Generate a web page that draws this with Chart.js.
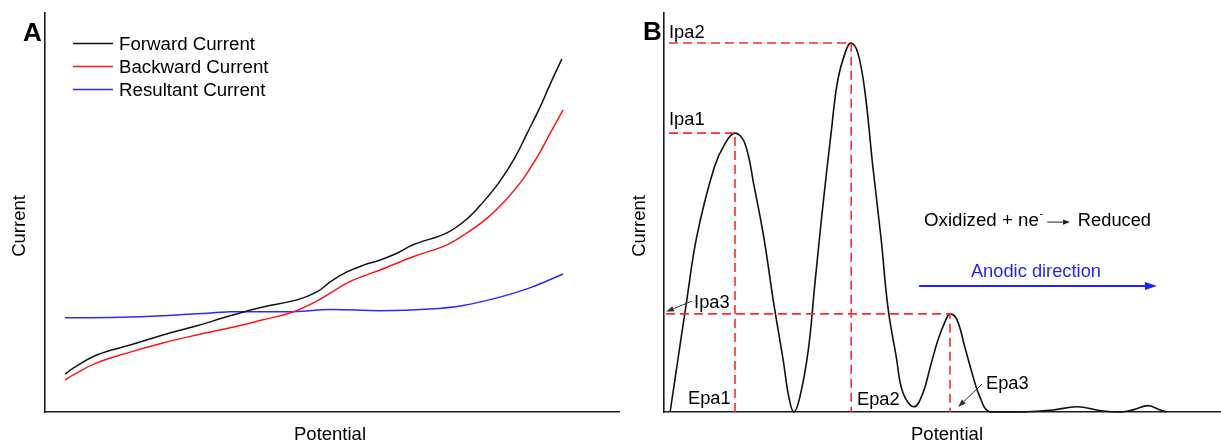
<!DOCTYPE html>
<html><head><meta charset="utf-8">
<script src="https://cdn.jsdelivr.net/npm/chart.js@4.4.1/dist/chart.umd.min.js"></script>
<style>
html,body{margin:0;padding:0;background:#fff;overflow:hidden}
#wrap{position:relative;width:1221px;height:441px;background:#fff}
canvas{position:absolute;top:0}
#cA{left:0}
#cB{left:620px}
</style></head><body>
<div id="wrap"><canvas id="cA" width="620" height="441"></canvas><canvas id="cB" width="601" height="441"></canvas></div>
<script>
// ---------- Panel A data (potential 0-100, current 0-100, arbitrary units) ----------
const fwdPotential = [3.5, 4.9, 9.0, 14.8, 20.5, 26.4, 32.2, 37.9, 43.8, 47.3, 49.6, 52.5, 55.4, 58.3, 61.2, 64.0, 69.9, 73.4, 76.2, 79.0, 81.7, 83.8, 86.1, 87.8, 89.9];
const fwdCurrent   = [9.5, 11.0, 14.3, 16.8, 19.3, 21.6, 24.1, 26.3, 28.1, 30.1, 32.6, 35.1, 36.8, 38.1, 39.8, 41.9, 44.9, 48.4, 52.6, 57.6, 63.7, 69.7, 76.4, 82.0, 88.5];
const bwdPotential = [3.5, 4.9, 9.0, 14.8, 20.5, 26.4, 32.2, 37.9, 42.6, 46.6, 49.6, 52.5, 55.4, 58.3, 64.0, 69.9, 73.4, 76.9, 80.3, 83.0, 85.6, 87.8, 90.1];
const bwdCurrent   = [8.0, 9.3, 12.3, 15.0, 17.3, 19.3, 21.1, 23.1, 24.8, 27.3, 29.8, 32.3, 34.1, 35.6, 38.9, 41.9, 44.9, 48.6, 53.4, 58.1, 63.9, 69.7, 75.7];
const resPotential = [3.5, 14.8, 26.4, 32.2, 37.9, 43.8, 49.6, 58.3, 67.0, 72.7, 78.6, 84.3, 90.1];
const resCurrent   = [23.6, 23.8, 24.6, 25.1, 25.1, 25.2, 25.7, 25.4, 25.8, 26.7, 28.6, 31.1, 34.6];
const seriesLabelsA = ['Forward Current', 'Backward Current', 'Resultant Current'];

// ---------- Panel B data ----------
const bPotential = [1.1, 2.3, 4.1, 5.9, 9.0, 11.0, 12.75, 14.5, 16.2, 18.0, 19.6, 21.4, 22.4, 23.3, 24.4, 25.9, 27.1, 28.5, 30.0, 31.2, 32.7, 33.6, 34.8, 36.1, 37.5, 39.0, 40.2, 41.7, 42.9, 44.9, 46.5, 47.8, 49.2, 50.6, 51.35, 52.6, 54.0, 55.3, 56.7, 58.5, 64.3, 69.8, 74.2, 78.5, 81.9, 84.4, 86.9, 89.1, 90.3];
const bCurrent   = [0, 11.3, 28.1, 44.1, 61.2, 67.4, 69.9, 67.4, 56.4, 43.1, 28.1, 13.0, 3.8, 0, 3.8, 15.5, 32.3, 51.4, 69.9, 83.2, 90.7, 92.5, 90.0, 80.0, 61.4, 43.1, 26.3, 13.8, 4.8, 1.3, 4.8, 11.3, 18.1, 23.1, 24.6, 23.1, 16.3, 9.8, 3.8, 0, 0, 0.5, 1.3, 0.3, 0, 0.6, 1.6, 0.5, 0];
const peakPotential = [12.75, 33.6, 51.35];   // Epa1, Epa2, Epa3
const peakCurrent   = [69.9, 92.5, 24.6];     // Ipa1, Ipa2, Ipa3
const peakCurrentLabels   = ['Ipa1', 'Ipa2', 'Ipa3'];
const peakPotentialLabels = ['Epa1', 'Epa2', 'Epa3'];

const FONT = '"Liberation Sans", Arial, Helvetica, sans-serif';

function pts(xs, ys){ return xs.map((x, i) => ({x: x, y: ys[i]})); }

function scalesCfg(){
  const ax = () => ({
    type: 'linear', min: 0, max: 100, display: true,
    grid: {display: false, drawTicks: false},
    ticks: {display: false},
    border: {display: true, color: '#1c1c1c', width: 1.6},
    title: {display: false}
  });
  return {x: ax(), y: ax()};
}

function baseOptions(){
  return {
    responsive: false, animation: false, devicePixelRatio: 1, events: [],
    layout: {padding: {left: 0, top: 13, right: 0, bottom: 29}},
    scales: scalesCfg(),
    plugins: {legend: {display: false}, tooltip: {enabled: false}},
    elements: {point: {radius: 0}}
  };
}

function drawAxisTitles(ctx, cx){
  ctx.save();
  ctx.fillStyle = '#000';
  ctx.font = '18.5px ' + FONT;
  ctx.textBaseline = 'alphabetic';
  ctx.textAlign = 'center';
  ctx.fillText('Potential', cx, 440);
  ctx.translate(25, 226);
  ctx.rotate(-Math.PI / 2);
  ctx.fillText('Current', 0, 0);
  ctx.restore();
}

function arrow(ctx, x1, y1, x2, y2, color, lw, headLen, headHalf){
  const ang = Math.atan2(y2 - y1, x2 - x1);
  const bx = x2 - headLen * Math.cos(ang), by = y2 - headLen * Math.sin(ang);
  ctx.save();
  ctx.strokeStyle = color; ctx.fillStyle = color; ctx.lineWidth = lw;
  ctx.beginPath(); ctx.moveTo(x1, y1); ctx.lineTo(bx, by); ctx.stroke();
  ctx.beginPath();
  ctx.moveTo(x2, y2);
  ctx.lineTo(bx + headHalf * Math.sin(ang), by - headHalf * Math.cos(ang));
  ctx.lineTo(bx - headHalf * Math.sin(ang), by + headHalf * Math.cos(ang));
  ctx.closePath(); ctx.fill();
  ctx.restore();
}

// ---------- Panel A ----------
const panelAPlugin = {
  id: 'panelA',
  afterDraw(chart){
    const ctx = chart.ctx;
    ctx.save();
    ctx.fillStyle = '#000';
    ctx.textAlign = 'left';
    ctx.textBaseline = 'alphabetic';
    ctx.font = 'bold 26px ' + FONT;
    ctx.fillText('A', 23, 41);
    ctx.font = '18.7px ' + FONT;
    chart.data.datasets.forEach((ds, i) => {
      const y = 43.5 + i * 23;
      ctx.strokeStyle = ds.borderColor; ctx.lineWidth = 1.5;
      ctx.beginPath(); ctx.moveTo(73, y); ctx.lineTo(113, y); ctx.stroke();
      ctx.fillStyle = '#000';
      ctx.fillText(ds.label, 119, y + 6);
    });
    ctx.restore();
    drawAxisTitles(ctx, 330);
  }
};

const optA = baseOptions();
optA.layout.padding.left = 45;
new Chart(document.getElementById('cA'), {
  type: 'line',
  data: {datasets: [
    {label: seriesLabelsA[0], data: pts(fwdPotential, fwdCurrent), borderColor: '#111111', borderWidth: 1.5, tension: 0.4, fill: false},
    {label: seriesLabelsA[1], data: pts(bwdPotential, bwdCurrent), borderColor: '#ff1414', borderWidth: 1.5, tension: 0.4, fill: false},
    {label: seriesLabelsA[2], data: pts(resPotential, resCurrent), borderColor: '#2a2aff', borderWidth: 1.5, tension: 0.4, fill: false}
  ]},
  options: optA,
  plugins: [panelAPlugin]
});

// ---------- Panel B ----------
const panelBPlugin = {
  id: 'panelB',
  afterDraw(chart){
    const ctx = chart.ctx;
    const X = v => chart.scales.x.getPixelForValue(v);
    const Y = v => chart.scales.y.getPixelForValue(v);
    ctx.save();
    ctx.fillStyle = '#000';
    ctx.textAlign = 'left';
    ctx.textBaseline = 'alphabetic';
    ctx.font = 'bold 26px ' + FONT;
    ctx.fillText('B', 23, 40);
    ctx.font = '18.3px ' + FONT;
    // peak current labels
    ctx.fillText(peakCurrentLabels[1], X(0.9), Y(93.7));
    ctx.fillText(peakCurrentLabels[0], X(0.9), Y(71.9));
    ctx.fillText(peakCurrentLabels[2], X(5.4), Y(26.1));
    arrow(ctx, X(5.0), Y(27.8), X(0.36), Y(25.1), '#333', 1, 8, 2.8);
    // peak potential labels
    ctx.fillText(peakPotentialLabels[0], X(4.3), Y(2.0));
    ctx.fillText(peakPotentialLabels[1], X(34.65), Y(1.75));
    ctx.fillText(peakPotentialLabels[2], X(57.8), Y(5.76));
    arrow(ctx, X(57.1), Y(7.0), X(52.8), Y(1.25), '#333', 1, 8, 2.8);
    // reaction
    const rx = X(46.68), ry = Y(46.74);
    ctx.font = '18.7px ' + FONT;
    ctx.fillText('Oxidized + ne', rx, ry);
    const w = ctx.measureText('Oxidized + ne').width;
    ctx.font = '10px ' + FONT;
    ctx.fillText('-', rx + w + 1, ry - 9);
    ctx.font = '18.3px ' + FONT;
    arrow(ctx, X(68.8), Y(47.6), X(72.9), Y(47.6), '#222', 1, 7, 2.6);
    ctx.fillText('Reduced', X(74.3), ry);
    // anodic direction
    ctx.fillStyle = '#1f1fff';
    ctx.fillText('Anodic direction', X(55.1), Y(33.83));
    arrow(ctx, X(45.8), Y(31.58), X(88.5), Y(31.58), '#1f1fff', 1.8, 12, 4);
    ctx.restore();
    drawAxisTitles(ctx, 327);
  }
};

const guideStart = [0.9, 0.9, 0.36];
const guideSets = peakPotential.map((e, i) => ({
  label: peakCurrentLabels[i] + ' guide',
  data: [{x: guideStart[i], y: peakCurrent[i]}, {x: e, y: peakCurrent[i]}, {x: e, y: 0}],
  borderColor: '#ff2a2a', borderWidth: 1.6, borderDash: [9, 5], tension: 0, fill: false, clip: false
}));

const optB = baseOptions();
optB.layout.padding.left = 44;
new Chart(document.getElementById('cB'), {
  type: 'line',
  data: {datasets: guideSets.concat([
    {label: 'Current', data: pts(bPotential, bCurrent), borderColor: '#111111', borderWidth: 1.6, tension: 0.4, fill: false, clip: false}
  ])},
  options: optB,
  plugins: [panelBPlugin]
});
</script>
</body></html>
